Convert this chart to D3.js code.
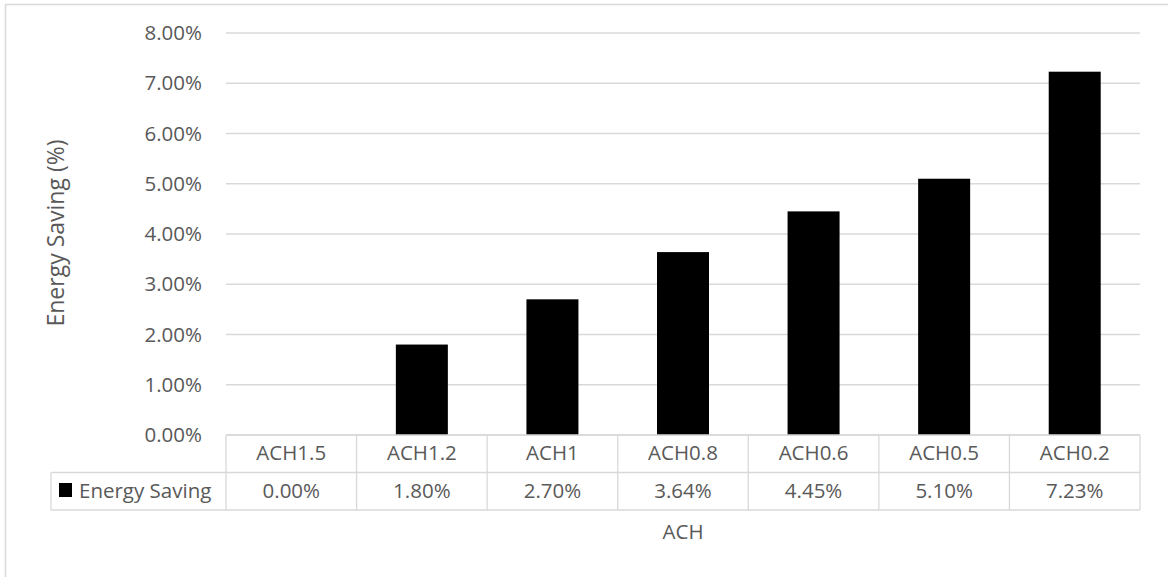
<!DOCTYPE html>
<html><head><meta charset="utf-8">
<script src="https://cdn.jsdelivr.net/npm/d3@7"></script>
<style>body{margin:0;background:#fff}svg{display:block}</style>
</head><body>
<svg id="c" width="1168" height="577"></svg>
<script>
const categories = ["ACH1.5","ACH1.2","ACH1","ACH0.8","ACH0.6","ACH0.5","ACH0.2"];
const values = [0.0000, 0.0180, 0.0270, 0.0364, 0.0445, 0.0510, 0.0723];
const valueLabels = ["0.00%","1.80%","2.70%","3.64%","4.45%","5.10%","7.23%"];
const yTicks = [0,0.01,0.02,0.03,0.04,0.05,0.06,0.07,0.08];
const seriesName = "Energy Saving";
const yTitle = "Energy Saving (%)";
const xTitle = "ACH";

const svg = d3.select("#c");
const font = "'Open Sans', 'Liberation Sans', sans-serif";
const txt = "#595959", grid = "#d9d9d9";
const L = 226, R = 1140, T = 33, B = 435;
const rowH = 37.5, tableLeft = 51;
const fs = 20.5, fsX = 20.5, fsY = 23;

// outer border
svg.append("rect").attr("x",5.5).attr("y",4.5).attr("width",1200).attr("height",700)
  .attr("fill","none").attr("stroke",grid).attr("stroke-width",1.5);

const xCol = d3.scaleBand().domain(categories).range([L,R]);
const y = d3.scaleLinear().domain([0,0.08]).range([B,T]);

// gridlines
svg.append("g").selectAll("line").data(yTicks).join("line")
  .attr("x1",L).attr("x2",R).attr("y1",d=>y(d)).attr("y2",d=>y(d))
  .attr("stroke",grid).attr("stroke-width",1.3);

// y axis labels
const yAxis = d3.axisLeft(y).tickValues(yTicks).tickFormat(d3.format(".2%")).tickSize(0).tickPadding(24);
const ya = svg.append("g").attr("transform",`translate(${L},0)`).call(yAxis);
ya.select(".domain").remove();
ya.selectAll("text").attr("font-family",font).attr("font-size",fs).attr("fill",txt);

// bars
const bw = 52;
svg.append("g").selectAll("rect").data(values).join("rect")
  .attr("x",(d,i)=>xCol(categories[i])+xCol.bandwidth()/2-bw/2)
  .attr("width",bw)
  .attr("y",d=>y(d)).attr("height",d=>B-y(d))
  .attr("fill","#000");

// data table
const tg = svg.append("g");
const tb = B + 2*rowH;
tg.append("line").attr("x1",L).attr("x2",R).attr("y1",B).attr("y2",B).attr("stroke",grid).attr("stroke-width",1.3);
tg.append("line").attr("x1",tableLeft).attr("x2",R).attr("y1",B+rowH).attr("y2",B+rowH).attr("stroke",grid).attr("stroke-width",1.3);
tg.append("line").attr("x1",tableLeft).attr("x2",R).attr("y1",tb).attr("y2",tb).attr("stroke",grid).attr("stroke-width",1.3);
const vx = categories.map(c=>xCol(c)).concat([R]);
tg.selectAll("line.v").data(vx).join("line").attr("class","v")
  .attr("x1",d=>d).attr("x2",d=>d).attr("y1",B).attr("y2",tb).attr("stroke",grid).attr("stroke-width",1.3);
tg.append("line").attr("x1",tableLeft).attr("x2",tableLeft).attr("y1",B+rowH).attr("y2",tb).attr("stroke",grid).attr("stroke-width",1.3);

tg.selectAll("text.cat").data(categories).join("text").attr("class","cat")
  .attr("x",d=>xCol(d)+xCol.bandwidth()/2).attr("y",B+25)
  .attr("text-anchor","middle").attr("font-family",font).attr("font-size",fs).attr("fill",txt).text(d=>d);
tg.selectAll("text.val").data(valueLabels).join("text").attr("class","val")
  .attr("x",(d,i)=>xCol(categories[i])+xCol.bandwidth()/2).attr("y",B+63)
  .attr("text-anchor","middle").attr("font-family",font).attr("font-size",fs).attr("fill",txt).text(d=>d);

// legend key
tg.append("rect").attr("x",59).attr("y",B+48).attr("width",13).attr("height",14).attr("fill","#000");
tg.append("text").attr("x",79).attr("y",B+63).attr("font-family",font).attr("font-size",fs).attr("fill",txt).text(seriesName);

// axis titles
svg.append("text").attr("x",(L+R)/2).attr("y",539).attr("text-anchor","middle")
  .attr("font-family",font).attr("font-size",fsX).attr("fill",txt).text(xTitle);
svg.append("text").attr("transform",`translate(64,233) rotate(-90)`).attr("text-anchor","middle")
  .attr("font-family",font).attr("font-size",fsY).attr("fill",txt).text(yTitle);
</script>
</body></html>
